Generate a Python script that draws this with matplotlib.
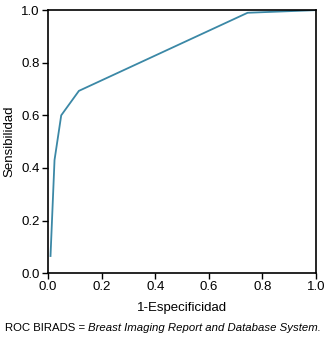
import matplotlib
matplotlib.use("Agg")
import matplotlib.pyplot as plt

fpr = [0.009, 0.024, 0.049, 0.115, 0.745, 1.0]
tpr = [0.065, 0.43, 0.60, 0.693, 0.99, 1.0]
ticks = [0.0, 0.2, 0.4, 0.6, 0.8, 1.0]

plt.rcParams['font.family'] = ['Liberation Sans', 'DejaVu Sans']
fig = plt.figure(figsize=(3.25, 3.38), dpi=100)
ax = fig.add_axes([0.148, 0.192, 0.824, 0.778])
ax.plot(fpr, tpr, color='#3b88a6', lw=1.3)
ax.set_xlim(0, 1)
ax.set_ylim(0, 1)
ax.set_xticks(ticks)
ax.set_yticks(ticks)
ax.set_xticklabels([f"{t:.1f}" for t in ticks])
ax.set_yticklabels([f"{t:.1f}" for t in ticks])
ax.tick_params(labelsize=9.5, length=4, width=1, pad=2)
for s in ax.spines.values():
    s.set_linewidth(1.2)
ax.set_xlabel('1-Especificidad', fontsize=9.5, labelpad=6)
ax.set_ylabel('Sensibilidad', fontsize=9.5, labelpad=4)
fs = 8.2
fig.text(0.015, 0.03, 'ROC BIRADS = ', fontsize=fs, ha='left', va='center')
fig.canvas.draw()
t0 = fig.texts[0]
bb = t0.get_window_extent()
x1 = bb.x1 / fig.bbox.width
fig.text(x1, 0.03, 'Breast Imaging Report and Database System.', fontsize=fs,
         style='italic', ha='left', va='center')
fig.savefig('out.png', dpi=100)
